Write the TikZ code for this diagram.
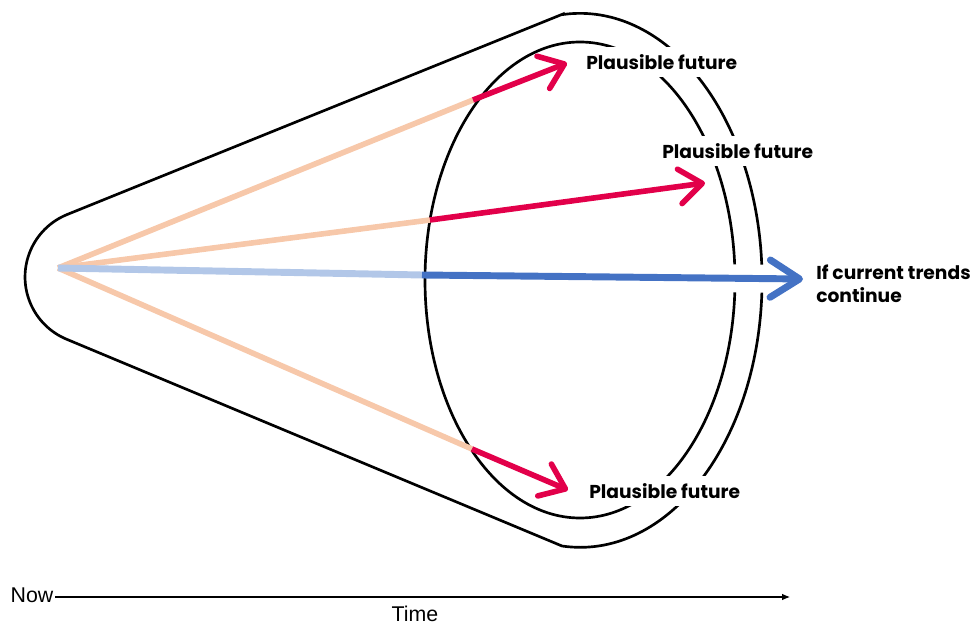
\documentclass[tikz,border=0pt]{standalone}
\usepackage{fontspec}
\setmainfont{Liberation Sans}
\newfontfamily\labelfont{Poppins}
\usetikzlibrary{arrows.meta,calc}
\definecolor{futurered}{RGB}{226,0,74}
\definecolor{trendblue}{RGB}{68,114,196}
\definecolor{paleorange}{RGB}{247,200,170}
\definecolor{paleblue}{RGB}{178,199,232}
\begin{document}
\begin{tikzpicture}[x=0.75pt, y=0.75pt,
  ring/.style={draw=black, line width=2pt},
  pastline/.style={line width=4.2pt, draw=paleorange},
  futurearrow/.style={line width=4.2pt, draw=futurered, -{Straight Barb[length=17pt,width=26pt,round]}},
  trendarrow/.style={line width=5.2pt, draw=trendblue, -{Straight Barb[length=22pt,width=28pt,round]}},
  futurelabel/.style={fill=white, anchor=west, inner xsep=3pt, inner ysep=0pt, minimum height=23pt, font=\labelfont\bfseries\fontsize{14}{17}\selectfont, align=left}]
  \useasboundingbox (0,0) rectangle (978,625);
  % Cone of plausible futures
  \draw[ring] (563,611) -- (67.2,410.5) arc[start angle=112, end angle=248, radius=67.4]
    -- (562,79) arc[start angle=-95.7, end angle=95.4, x radius=182, y radius=267] -- cycle;
  \draw[ring] (580,345) ellipse [x radius=155, y radius=238];
  % Now and the points where the paths leave the inner ring
  \coordinate (now) at (58,357);
  \coordinate (j1) at (473,525);
  \coordinate (t1) at (567,562);
  \coordinate (j2) at (430,405);
  \coordinate (t2) at (705,442);
  \coordinate (j3) at (422,350);
  \coordinate (t3) at (803,346);
  \coordinate (j4) at (472,176);
  \coordinate (t4) at (568,135);
  % Past trends
  \draw[pastline] (now) -- (j1);
  \draw[pastline] (now) -- (j2);
  \draw[pastline] (now) -- (j4);
  \draw[pastline, draw=paleblue, line width=5.2pt] (now) -- (j3);
  % Futures
  \draw[futurearrow] (j1) -- (t1);
  \draw[futurearrow] (j2) -- (t2);
  \draw[futurearrow] (j4) -- (t4);
  \draw[white, line width=21pt] ($(j3)!0.79!(t3)$) -- ($(j3)!0.98!(t3)$);
  \draw[trendarrow] (j3) -- (t3);
  % Labels
  \node[futurelabel] (fut1) at (582,563) {Plausible future};
  \node[futurelabel] (fut2) at (658,474) {Plausible future};
  \node[futurelabel] (fut4) at (585,134) {Plausible future};
  \node[futurelabel, fill=none] (trend) at (812,341) {If current trends\\continue};
  % Time axis
  \node[anchor=east, inner sep=1pt, font=\fontsize{16}{18}\selectfont] (nowlbl) at (55,30) {Now};
  \coordinate (tend) at (790,28);
  \draw[line width=0.8pt, -{Latex[length=6pt,width=5pt]}] (nowlbl.east |- tend) -- (tend);
  \node[font=\fontsize{16}{18}\selectfont] (timelbl) at (415,11) {Time};
\end{tikzpicture}
\end{document}
